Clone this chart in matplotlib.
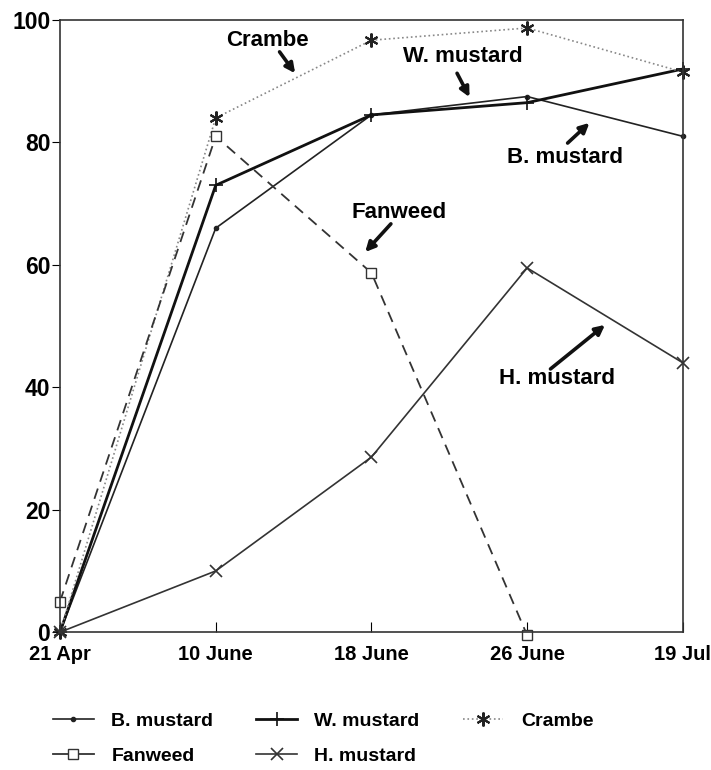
import matplotlib
matplotlib.use('Agg')
from matplotlib import pyplot as plt
from matplotlib.lines import Line2D

plt.rcParams['font.family'] = ['Liberation Sans', 'DejaVu Sans']
plt.rcParams['font.weight'] = 'bold'

dates = ['21 Apr', '10 June', '18 June', '26 June', '19 Jul']
b_mustard = [0, 66, 84.5, 87.5, 81]
w_mustard = [0, 73, 84.5, 86.5, 92]
crambe = [0, 84, 96.7, 98.7, 91.5]
fanweed = [5, 81, 58.7, -0.5]
h_mustard = [0, 10, 28.6, 59.5, 44]

x = list(range(len(dates)))

fig = plt.figure(figsize=(7.11, 7.7), dpi=100)
ax = fig.add_axes([0.0844, 0.179, 0.876, 0.795])

lb, = ax.plot(x, b_mustard, color='#222', lw=1.2, marker='.', ms=6, label='B. mustard', clip_on=False)
lw_, = ax.plot(x, w_mustard, color='#111', lw=2.0, marker='+', ms=10, mew=1.2, label='W. mustard', clip_on=False)
lc, = ax.plot(x, crambe, color='#888', lw=1.2, ls=':', marker=(6, 2, 0), ms=10, mew=1.5,
              mec='#222', label='Crambe', clip_on=False)
lf, = ax.plot(x[:len(fanweed)], fanweed, color='#333', lw=1.3, ls=(0, (6, 4)), marker='s', ms=7,
              mfc='white', mec='#333', label='Fanweed', clip_on=False)
lh, = ax.plot(x, h_mustard, color='#333', lw=1.2, marker='x', ms=9, mew=1.2, label='H. mustard', clip_on=False)

ax.set_xlim(0, 4)
ax.set_ylim(0, 100)
ax.set_xticks(x)
ax.set_xticklabels(dates, fontsize=14.5, fontweight='bold')
ax.set_yticks([0, 20, 40, 60, 80, 100])
ax.set_yticklabels(['0', '20', '40', '60', '80', '100'], fontsize=16.5, fontweight='bold')
ax.tick_params(axis='x', direction='in', length=7, pad=9)
ax.tick_params(axis='y', direction='out', length=6, pad=1)
for s in ax.spines.values():
    s.set_color('#333')
    s.set_linewidth(1.2)

arrow = dict(arrowstyle='-|>', color='#111', lw=2.6, mutation_scale=14, shrinkA=0, shrinkB=0)
# (label, text position, arrow tail, arrow head)
notes = [
    ('Crambe', (1.335, 96.7), (1.41, 94.8), (1.51, 91.3)),
    ('W. mustard', (2.59, 94.0), (2.55, 91.3), (2.63, 87.4)),
    ('B. mustard', (3.24, 77.6), (3.26, 79.9), (3.40, 83.2)),
    ('Fanweed', (2.18, 68.6), (2.125, 66.7), (1.96, 62.1)),
    ('H. mustard', (3.19, 41.5), (3.15, 43.0), (3.50, 50.2)),
]
for label, tpos, tail, head in notes:
    ax.text(tpos[0], tpos[1], label, fontsize=16, fontweight='bold', ha='center', va='center')
    ax.annotate('', xy=head, xytext=tail, arrowprops=arrow)

# legend handle for fanweed drawn solid, as in the original key
lf_key = Line2D([], [], color='#333', lw=1.3, marker='s', ms=7, mfc='white', mec='#333')

# column-major order so rows read B, W, Crambe / Fanweed, H
fig.legend([lb, lf_key, lw_, lh, lc], ['B. mustard', 'Fanweed', 'W. mustard', 'H. mustard', 'Crambe'],
           loc='upper left', bbox_to_anchor=(0.05, 0.098), ncol=3, frameon=False,
           fontsize=14, handlelength=2.1, handletextpad=0.9, columnspacing=2.2, labelspacing=0.9)

fig.savefig('out.png', dpi=100)
